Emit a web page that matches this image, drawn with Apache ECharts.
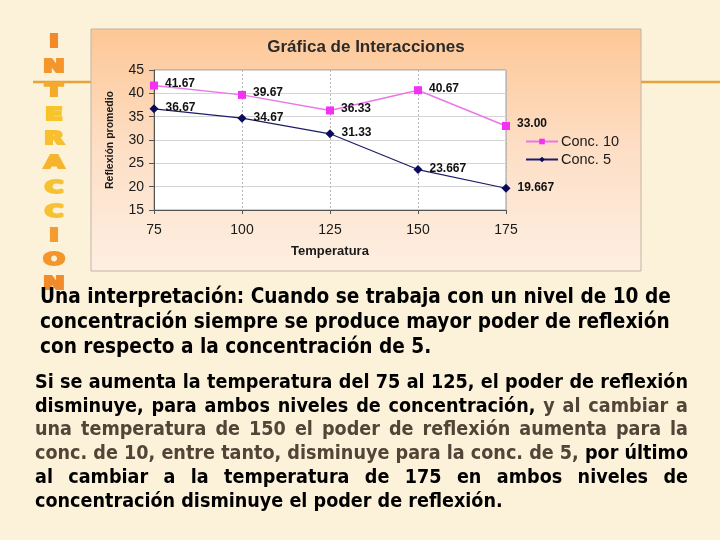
<!DOCTYPE html>
<html><head><meta charset="utf-8">
<script src="https://cdn.jsdelivr.net/npm/echarts@6/dist/echarts.min.js"></script>
<style>html,body{margin:0;padding:0;background:#fcf1d9;} #c{width:720px;height:540px;}</style>
</head><body><div id="c"></div>
<script>
// ---- data ----
const temperaturas = ['75', '100', '125', '150', '175'];
const conc10 = [41.67, 39.67, 36.33, 40.67, 33.00];
const conc5 = [36.67, 34.67, 31.33, 23.667, 19.667];
const etiquetas10 = ['41.67', '39.67', '36.33', '40.67', '33.00'];
const etiquetas5 = ['36.67', '34.67', '31.33', '23.667', '19.667'];
const nombresSeries = ['Conc. 10', 'Conc. 5'];
const yMin = 15, yMax = 45, yPaso = 5;
const titulo = 'Gráfica de Interacciones';
const nombreEjeX = 'Temperatura';
const nombreEjeY = 'Reflexión promedio';
const letras = ['I', 'N', 'T', 'E', 'R', 'A', 'C', 'C', 'I', 'O', 'N'];
const coloresLetras = ['#f28a2a', '#f4962c', '#f6aa2c', '#f7c42a', '#f7c02c', '#f6b42e', '#f7c232', '#f7c232', '#f49c2e', '#f4962c', '#f28c2a'];
const parrafo1 = [
  'Una interpretación: Cuando se trabaja con un nivel de 10 de',
  'concentración siempre se produce mayor poder de reflexión',
  'con respecto a la concentración de 5.'
];
const K = '#000000', B = '#524436';
const parrafo2 = [
  [['Si se aumenta la temperatura del 75 al 125, el poder de reflexión', K]],
  [['disminuye, para ambos niveles de concentración,', K], ['y al cambiar a', B]],
  [['una temperatura de 150 el poder de reflexión aumenta para la', B]],
  [['conc. de 10, entre tanto, disminuye para la conc. de 5,', B], ['por último', K]],
  [['al cambiar a la temperatura de 175 en ambos niveles de', K]],
  [['concentración disminuye el poder de reflexión.', K]]
];

// ---- text layout helpers ----
const cx = document.createElement('canvas').getContext('2d');
const FAM = '"DejaVu Sans Condensed", "DejaVu Sans", sans-serif';
const ARIAL = '"Liberation Sans", Arial, sans-serif';
function fnt(sz) { return 'bold ' + sz + 'px ' + FAM; }
function mw(t, f) { cx.font = f; return cx.measureText(t).width; }

const graphics = [];
graphics.push({ type: 'line', z: -30, shape: { x1: 33, y1: 82, x2: 720, y2: 82 }, style: { stroke: '#e3a43c', lineWidth: 2.5 } });
graphics.push({ type: 'rect', z: -20, shape: { x: 91, y: 29, width: 550, height: 242 },
  style: { fill: new echarts.graphic.LinearGradient(0, 0, 0, 1, [
    { offset: 0, color: '#fdc796' }, { offset: 0.5, color: '#fddfc6' }, { offset: 1, color: '#fdefe2' }]),
    stroke: '#c2b4a4', lineWidth: 1 } });
letras.forEach((l, i) => {
  graphics.push({ type: 'text', z: 5, x: 54, y: 43 + i * 24.2, scaleX: 1.5, scaleY: 1.0, style: {
    text: l, x: 0, y: 0, align: 'center', verticalAlign: 'middle',
    font: '900 17px "DejaVu Sans", sans-serif',
    fill: coloresLetras[i], stroke: coloresLetras[i], lineWidth: 2.2, lineJoin: 'miter',
    shadowColor: 'rgba(170,100,30,0.4)', shadowBlur: 2, shadowOffsetX: 1, shadowOffsetY: 1 } });
});
const s1 = 17 * 631 / mw(parrafo1[0], fnt(17));
parrafo1.forEach((t, i) => {
  graphics.push({ type: 'text', z: 6, style: { text: t, x: 40, y: 298 + i * 25, align: 'left', verticalAlign: 'middle', font: fnt(s1), fill: '#000' } });
});
const s2 = 16 * 468 / mw('concentración disminuye el poder de reflexión.', fnt(16));
const f2 = fnt(s2);
parrafo2.forEach((segs, i) => {
  const words = [];
  segs.forEach(([t, c]) => t.split(' ').filter(s => s).forEach(w => words.push([w, c])));
  const ws = words.map(w => mw(w[0], f2));
  const sum = ws.reduce((a, b) => a + b, 0);
  const last = i === parrafo2.length - 1;
  const gap = last ? mw(' ', f2) : (653 - sum) / (words.length - 1);
  let x = 35;
  words.forEach((w, j) => {
    graphics.push({ type: 'text', z: 6, style: { text: w[0], x: x, y: 383 + i * 23.7, align: 'left', verticalAlign: 'middle', font: f2, fill: w[1] } });
    x += ws[j] + gap;
  });
});
graphics.push({ type: 'text', z: 6, style: { text: titulo, x: 366, y: 47, align: 'center', verticalAlign: 'middle',
  font: 'bold 17px ' + ARIAL, fill: '#2a2a2a' } });

const chart = echarts.init(document.getElementById('c'), null, { renderer: 'canvas' });
chart.setOption({
  backgroundColor: 'transparent',
  animation: false,
  graphic: graphics,
  grid: { left: 154, top: 70, width: 352, height: 140, show: true, backgroundColor: '#ffffff', borderColor: '#9a9a9a', borderWidth: 1 },
  legend: {
    orient: 'vertical', left: 520, top: 129, itemWidth: 32, itemHeight: 7, itemGap: 3,
    data: nombresSeries,
    textStyle: { fontFamily: ARIAL, fontSize: 14.5, color: '#1a1a1a', padding: [0, 0, 0, -2] }
  },
  xAxis: {
    type: 'category', data: temperaturas, boundaryGap: false,
    name: nombreEjeX, nameLocation: 'middle', nameGap: 35,
    nameTextStyle: { fontFamily: ARIAL, fontWeight: 'bold', fontSize: 13, color: '#1a1a1a' },
    axisLine: { lineStyle: { color: '#555' } },
    axisTick: { show: true, alignWithLabel: true, length: 4, lineStyle: { color: '#555' } },
    axisLabel: { margin: 13, fontFamily: ARIAL, fontSize: 14, color: '#1a1a1a' },
    splitLine: { show: true, lineStyle: { color: '#b8b8b8', type: [2, 2] } }
  },
  yAxis: {
    type: 'value', min: yMin, max: yMax, interval: yPaso,
    name: nombreEjeY, nameLocation: 'middle', nameGap: 38, nameRotate: 90,
    nameTextStyle: { fontFamily: ARIAL, fontWeight: 'bold', fontSize: 10.5, color: '#1a1a1a' },
    axisLine: { show: true, lineStyle: { color: '#555' } },
    axisTick: { show: true, length: 5, lineStyle: { color: '#555' } },
    axisLabel: { margin: 10, fontFamily: ARIAL, fontSize: 14, color: '#1a1a1a' },
    splitLine: { show: true, lineStyle: { color: '#d4d4d4' } }
  },
  series: [
    {
      name: nombresSeries[0], type: 'line', data: conc10, symbol: 'rect', symbolSize: 8,
      itemStyle: { color: '#f530f5' }, lineStyle: { color: '#e878e8', width: 1.5 },
      label: { show: true, position: 'right', distance: 7, offset: [0, -2], formatter: p => etiquetas10[p.dataIndex],
        fontFamily: ARIAL, fontWeight: 'bold', fontSize: 12, color: '#111' }
    },
    {
      name: nombresSeries[1], type: 'line', data: conc5, symbol: 'diamond', symbolSize: 9,
      itemStyle: { color: '#0a0a5e' }, lineStyle: { color: '#1c1c6a', width: 1.2 },
      label: { show: true, position: 'right', distance: 7, offset: [0, -1], formatter: p => etiquetas5[p.dataIndex],
        fontFamily: ARIAL, fontWeight: 'bold', fontSize: 12, color: '#111' }
    }
  ]
});
</script>
</body></html>
